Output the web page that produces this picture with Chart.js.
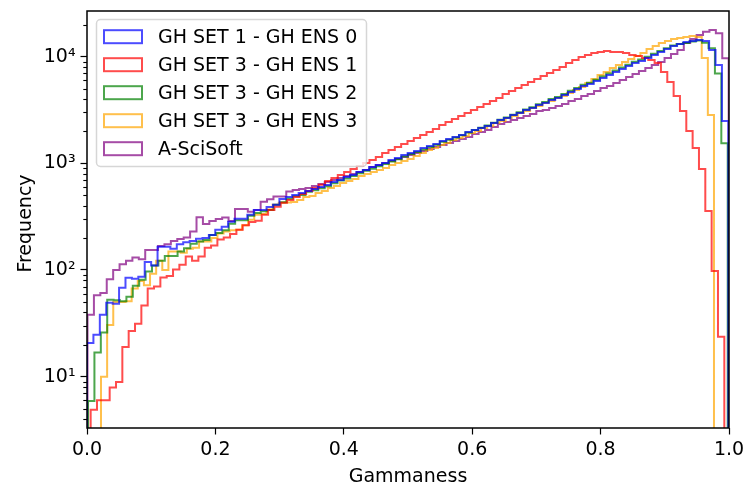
<!DOCTYPE html>
<html>
<head>
<meta charset="utf-8">
<script src="https://cdn.jsdelivr.net/npm/chart.js@4.4.1/dist/chart.umd.min.js"></script>
<style>
  html, body { margin: 0; padding: 0; background: #fff; }
  #wrap { width: 745px; height: 486px; }
</style>
</head>
<body>
<div id="wrap"><canvas id="chart" width="745" height="486"></canvas></div>
<script>
// histogram counts, 100 bins per series
const seriesLabels = ["GH SET 1 - GH ENS 0", "GH SET 3 - GH ENS 1", "GH SET 3 - GH ENS 2", "GH SET 3 - GH ENS 3", "A-SciSoft"];
const seriesColors = ["rgba(0,0,255,0.7)", "rgba(255,0,0,0.7)", "rgba(0,128,0,0.7)", "rgba(255,165,0,0.7)", "rgba(128,0,128,0.7)"];

// bin range [first edge, last edge] of each series
const blueRange = [0.0, 0.999];
const redRange = [0.0057, 0.9927];
const greenRange = [0.0016, 0.998];
const orangeRange = [0.0218, 0.9766];
const purpleRange = [0.0008, 0.9995];

const blueCounts = [20.7, 24.7, 38, 49.2, 48.2, 68, 84.4, 82.6, 86.2, 119, 110, 165, 165, 158, 174, 182, 187, 196, 200, 213,
  238, 254, 283, 302, 302, 330, 366, 366, 390, 408, 464, 484, 505, 527, 551, 575, 600, 626, 670, 699,
  746, 779, 831, 867, 925, 966, 1008, 1076, 1123, 1198, 1251, 1307, 1394, 1455, 1520, 1622, 1693, 1768, 1846, 1969,
  2056, 2147, 2241, 2391, 2551, 2664, 2841, 2968, 3166, 3306, 3526, 3682, 3928, 4101, 4375, 4668, 4980, 5313, 5547, 5919,
  6315, 6736, 7188, 7669, 8181, 8731, 9115, 9725, 10374, 11069, 11809, 12598, 13153, 13734, 14034, 14340, 14034, 11557, 8362, 2497];

const redCounts = [4.9, 6, 6, 7.9, 8.9, 19, 26.8, 31.3, 46.5, 67, 70, 85, 88, 101, 112, 134, 122, 134, 162, 170,
  193, 202, 218, 238, 263, 282, 290, 330, 366, 392, 426, 454, 484, 516, 551, 588, 628, 684, 730, 778,
  830, 886, 945, 1009, 1076, 1148, 1251, 1335, 1425, 1520, 1622, 1730, 1846, 1969, 2101, 2290, 2443, 2607, 2782, 2968,
  3166, 3378, 3603, 3844, 4102, 4471, 4770, 5090, 5430, 5793, 6181, 6594, 7035, 7505, 8009, 8731, 9314, 9938, 10376, 10833,
  11069, 11310, 11069, 11069, 10833, 10376, 10155, 9725, 9314, 8731, 7188, 5793, 4283, 3098, 2012, 1394, 886, 358, 98, 23.6];

const greenCounts = [5.9, 16.8, 25.9, 52.5, 52, 51, 56, 71, 81, 97, 110, 122, 135, 135, 149, 160, 176, 185, 191, 213,
  222, 236, 272, 292, 292, 323, 343, 355, 366, 410, 432, 465, 490, 505, 540, 560, 585, 610, 650, 690,
  720, 760, 805, 850, 890, 940, 985, 1040, 1090, 1160, 1220, 1280, 1350, 1420, 1490, 1590, 1660, 1750, 1830, 1950,
  2050, 2150, 2260, 2400, 2560, 2690, 2860, 3010, 3200, 3360, 3580, 3760, 4000, 4190, 4460, 4780, 5090, 5440, 5700, 6090,
  6500, 6940, 7400, 7900, 8420, 8980, 9400, 10000, 10650, 11300, 12000, 12700, 13150, 13400, 13900, 14200, 13500, 12000, 6960, 1540];

const orangeCounts = [10, 30.5, 50, 50, 51, 67, 79, 72, 92, 122, 100, 149, 149, 145, 158, 162, 185, 185, 199, 220,
  230, 236, 238, 262, 295, 330, 335, 370, 410, 428, 430, 435, 454, 484, 495, 528, 551, 588, 614, 655,
  684, 714, 762, 795, 830, 867, 905, 966, 1009, 1053, 1099, 1173, 1251, 1335, 1394, 1488, 1553, 1657, 1730, 1807,
  1927, 2012, 2147, 2241, 2391, 2497, 2664, 2782, 2968, 3098, 3306, 3451, 3682, 3844, 4102, 4283, 4569, 4874, 5201, 5669,
  6180, 6736, 7188, 7836, 8362, 8921, 9517, 10155, 10833, 11809, 12598, 13442, 14034, 14652, 14971, 15297, 15630, 15297, 9725, 2840];

const purpleCounts = [38, 58, 61, 82, 100, 113, 122, 131, 126, 154, 154, 168, 174, 187, 195, 202, 229, 312, 270, 288,
  300, 310, 288, 374, 374, 352, 365, 437, 461, 488, 488, 543, 563, 575, 588, 614, 641, 670, 699, 730,
  762, 795, 830, 867, 925, 966, 1009, 1053, 1099, 1148, 1198, 1251, 1307, 1364, 1425, 1488, 1553, 1622, 1693, 1768,
  1886, 1969, 2056, 2193, 2340, 2443, 2551, 2664, 2782, 2904, 3098, 3166, 3306, 3451, 3603, 3844, 4014, 4283, 4471, 4770,
  5090, 5313, 5669, 6048, 6451, 6885, 7345, 7836, 8362, 8921, 9725, 10610, 11557, 13442, 14652, 16000, 17150, 17790, 16600, 9650];

const xTickValues = [0, 0.2, 0.4, 0.6, 0.8, 1.0];
const xTickLabels = ["0.0", "0.2", "0.4", "0.6", "0.8", "1.0"];
const yMajorValues = [10, 100, 1000, 10000];
const yTickLabels = ["10\u00b9", "10\u00b2", "10\u00b3", "10\u2074"];
const yMin = 3.3, yMax = 26800;

const allCounts = [blueCounts, redCounts, greenCounts, orangeCounts, purpleCounts];
const allRanges = [blueRange, redRange, greenRange, orangeRange, purpleRange];

const FONT = "DejaVu Sans";
const FS = 19;

// outline of a step histogram: up from the floor, across each bin, back down
function stepPoints(counts, range) {
  const w = (range[1] - range[0]) / counts.length;
  const pts = [{ x: range[0], y: 0.1 }];
  counts.forEach((c, i) => {
    pts.push({ x: range[0] + i * w, y: c });
    pts.push({ x: range[0] + (i + 1) * w, y: c });
  });
  pts.push({ x: range[1], y: 0.1 });
  return pts;
}

// minor + major ticks for the log axis
const yTicks = [];
[1, 10, 100, 1000, 10000].forEach(d => {
  for (let m = 1; m <= 9; m++) {
    const v = m * d;
    if (v >= yMin && v <= yMax) yTicks.push(v);
  }
});

const decorations = {
  id: "decorations",
  afterDatasetsDraw(chart) {
    const { ctx, chartArea: a, scales } = chart;
    ctx.save();
    // minor y ticks
    ctx.strokeStyle = "#000";
    ctx.lineWidth = 1.1;
    yTicks.filter(v => !yMajorValues.includes(v)).forEach(v => {
      const y = Math.round(scales.y.getPixelForValue(v)) + 0.5;
      ctx.beginPath();
      ctx.moveTo(a.left - 3.7, y);
      ctx.lineTo(a.left, y);
      ctx.stroke();
    });
    // frame
    ctx.lineWidth = 1.5;
    ctx.strokeRect(a.left, a.top, a.right - a.left, a.bottom - a.top);

    // legend
    const lx = 96.5, ly = 19.5, lw = 270, lh = 147, r = 4;
    ctx.beginPath();
    ctx.moveTo(lx + r, ly);
    ctx.arcTo(lx + lw, ly, lx + lw, ly + lh, r);
    ctx.arcTo(lx + lw, ly + lh, lx, ly + lh, r);
    ctx.arcTo(lx, ly + lh, lx, ly, r);
    ctx.arcTo(lx, ly, lx + lw, ly, r);
    ctx.closePath();
    ctx.fillStyle = "rgba(255,255,255,0.8)";
    ctx.fill();
    ctx.strokeStyle = "rgba(204,204,204,0.8)";
    ctx.lineWidth = 1.5;
    ctx.stroke();

    ctx.font = FS + "px '" + FONT + "'";
    ctx.textBaseline = "middle";
    ctx.textAlign = "left";
    chart.data.datasets.forEach((ds, i) => {
      const cy = 36.7 + i * 28;
      ctx.strokeStyle = ds.borderColor;
      ctx.lineWidth = 2;
      ctx.strokeRect(104, cy - 6.5, 38, 13);
      ctx.fillStyle = "#000";
      ctx.fillText(ds.label, 158, cy + 1);
    });

    // axis titles
    ctx.fillStyle = "#000";
    ctx.textAlign = "center";
    ctx.textBaseline = "alphabetic";
    ctx.fillText("Gammaness", (a.left + a.right) / 2, 482);
    ctx.save();
    ctx.translate(31, (a.top + a.bottom) / 2 + 4);
    ctx.rotate(-Math.PI / 2);
    ctx.fillText("Frequency", 0, 0);
    ctx.restore();
    ctx.restore();
  }
};

new Chart(document.getElementById("chart"), {
  type: "line",
  data: {
    datasets: seriesLabels.map((label, i) => ({
      label: label,
      data: stepPoints(allCounts[i], allRanges[i]),
      borderColor: seriesColors[i],
      borderWidth: 2,
      fill: false,
      pointRadius: 0,
      tension: 0
    }))
  },
  options: {
    responsive: false,
    animation: false,
    devicePixelRatio: 1,
    layout: { padding: { top: 11, right: 16, left: 0, bottom: 0 } },
    plugins: { legend: { display: false }, tooltip: { enabled: false } },
    elements: { line: { borderJoinStyle: "miter" } },
    scales: {
      x: {
        type: "linear",
        min: 0,
        max: 1,
        afterBuildTicks: s => { s.ticks = xTickValues.map(v => ({ value: v })); },
        afterFit: s => { s.height = 58; s.paddingLeft = 0; s.paddingRight = 0; },
        ticks: {
          autoSkip: false,
          maxRotation: 0,
          padding: 4,
          color: "#000",
          font: { family: FONT, size: FS },
          callback: (v, i) => xTickLabels[i]
        },
        grid: { drawOnChartArea: false, tickLength: 6.5, tickWidth: 1.2, tickColor: "#000" },
        border: { display: false }
      },
      y: {
        type: "logarithmic",
        min: yMin,
        max: yMax,
        afterBuildTicks: s => { s.ticks = yTicks.map(v => ({ value: v, major: yMajorValues.includes(v) })); },
        afterFit: s => { s.width = 87; s.paddingTop = 0; s.paddingBottom = 0; },
        ticks: {
          autoSkip: false,
          padding: 5,
          color: "#000",
          font: { family: FONT, size: FS },
          callback: v => {
            const k = yMajorValues.indexOf(v);
            return k >= 0 ? yTickLabels[k] : "";
          }
        },
        grid: {
          drawOnChartArea: false,
          tickLength: 6.5,
          tickWidth: 1.2,
          tickColor: c => (c.tick && yMajorValues.includes(c.tick.value)) ? "#000" : "rgba(0,0,0,0)"
        },
        border: { display: false }
      }
    }
  },
  plugins: [decorations]
});
</script>
</body>
</html>
